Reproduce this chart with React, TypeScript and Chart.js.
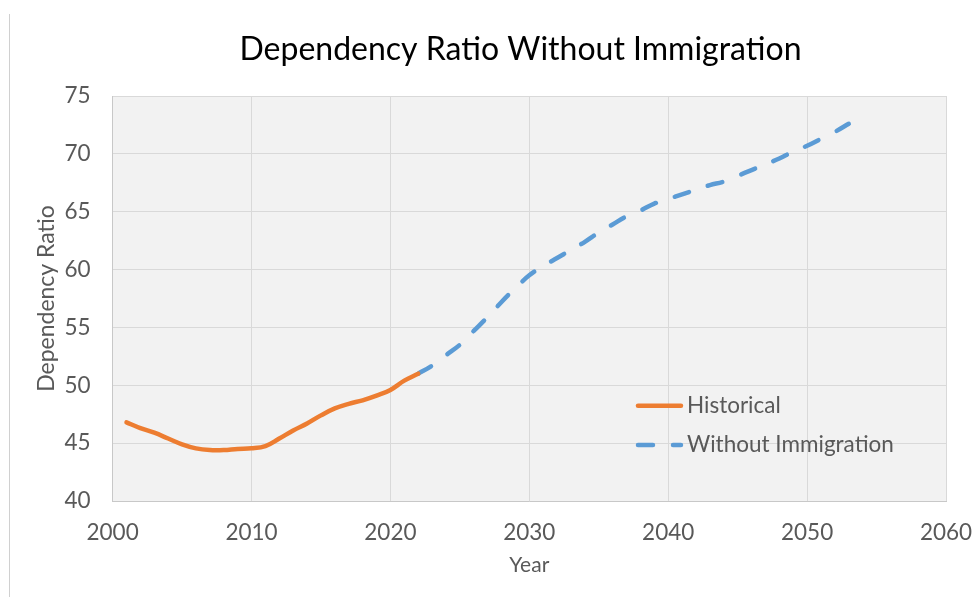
import React, { useEffect, useRef } from "react";
import { Chart, registerables } from "chart.js";

Chart.register(...registerables);

const chartTitle = "Dependency Ratio Without Immigration";
const xAxisTitle = "Year";
const yAxisTitle = "Dependency Ratio";

const historicalLabel = "Historical";
const historicalYears = [
  2001, 2002, 2003, 2004, 2005, 2006, 2007, 2008, 2009, 2010, 2011,
  2012, 2013, 2014, 2015, 2016, 2017, 2018, 2019, 2020, 2021, 2022,
];
const historicalValues = [
  46.8, 46.3, 45.9, 45.4, 44.9, 44.55, 44.4, 44.4, 44.5, 44.55, 44.75,
  45.4, 46.1, 46.7, 47.4, 48.0, 48.4, 48.7, 49.1, 49.6, 50.4, 51.0,
];

const projectionLabel = "Without Immigration";
const projectionYears = [
  2022, 2023, 2024, 2025, 2026, 2027, 2028, 2029, 2030, 2031, 2032,
  2033, 2034, 2035, 2036, 2037, 2038, 2039, 2040, 2041, 2042, 2043,
  2044, 2045, 2046, 2047, 2048, 2049, 2050, 2051, 2052, 2053,
];
const projectionValues = [
  51.0, 51.7, 52.6, 53.5, 54.7, 55.9, 57.2, 58.4, 59.5, 60.3, 61.0,
  61.7, 62.4, 63.2, 63.9, 64.6, 65.1, 65.7, 66.1, 66.5, 66.9, 67.3,
  67.6, 68.1, 68.6, 69.1, 69.6, 70.2, 70.7, 71.3, 71.9, 72.6,
];

const xMin = 2000;
const xMax = 2060;
const xStep = 10;
const yMin = 40;
const yMax = 75;
const yStep = 5;

const FONT = "Lato, 'Open Sans', sans-serif";
const TEXT_GRAY = "#595959";

const plotBackground = {
  id: "plotBackground",
  beforeDraw(chart: any) {
    const { ctx, chartArea: a } = chart;
    ctx.save();
    ctx.fillStyle = "#f2f2f2";
    ctx.fillRect(a.left, a.top, a.right - a.left, a.bottom - a.top);
    ctx.restore();
  },
};

const titlePlugin = {
  id: "customTitle",
  afterDraw(chart: any) {
    const { ctx } = chart;
    ctx.save();
    ctx.fillStyle = "#000000";
    ctx.font = `32px ${FONT}`;
    ctx.textAlign = "center";
    ctx.textBaseline = "middle";
    ctx.fillText(chartTitle, chart.width * 0.5333, 50);
    ctx.restore();
  },
};

const insideLegend = {
  id: "insideLegend",
  afterDatasetsDraw(chart: any) {
    const { ctx, chartArea: a } = chart;
    const w = a.right - a.left;
    const h = a.bottom - a.top;
    const x0 = a.left + w * 0.628;
    const rows = [0.765, 0.862];
    chart.data.datasets.forEach((ds: any, i: number) => {
      const y = a.top + h * rows[i];
      ctx.save();
      ctx.strokeStyle = ds.borderColor;
      ctx.lineWidth = ds.borderWidth;
      ctx.lineCap = "round";
      ctx.setLineDash(ds.borderDash || []);
      ctx.beginPath();
      ctx.moveTo(x0 + 2, y);
      ctx.lineTo(x0 + 45, y);
      ctx.stroke();
      ctx.setLineDash([]);
      ctx.fillStyle = TEXT_GRAY;
      ctx.font = `22.5px ${FONT}`;
      ctx.textBaseline = "middle";
      ctx.textAlign = "left";
      ctx.fillText(ds.label, x0 + 51, y);
      ctx.restore();
    });
  },
};

export default function App() {
  const canvasRef = useRef<HTMLCanvasElement | null>(null);

  useEffect(() => {
    document.body.style.margin = "0";
    document.body.style.overflow = "hidden";
    const canvas = canvasRef.current;
    if (!canvas) return;

    const chart = new Chart(canvas, {
      type: "line",
      data: {
        datasets: [
          {
            label: historicalLabel,
            data: historicalYears.map((x, i) => ({ x, y: historicalValues[i] })),
            borderColor: "#ED7D31",
            backgroundColor: "#ED7D31",
            borderWidth: 4.5,
            borderCapStyle: "round",
            borderJoinStyle: "round",
            pointRadius: 0,
            tension: 0.4,
            fill: false,
          },
          {
            label: projectionLabel,
            data: projectionYears.map((x, i) => ({ x, y: projectionValues[i] })),
            borderColor: "#5B9BD5",
            backgroundColor: "#5B9BD5",
            borderWidth: 4.5,
            borderDash: [15, 20],
            borderCapStyle: "round",
            borderJoinStyle: "round",
            pointRadius: 0,
            tension: 0.4,
            fill: false,
          },
        ],
      },
      options: {
        responsive: false,
        animation: false,
        layout: { padding: { left: 0, right: 30, top: 96, bottom: 0 } },
        plugins: {
          legend: { display: false },
          tooltip: { enabled: false },
          title: { display: false },
        },
        scales: {
          x: {
            type: "linear",
            min: xMin,
            max: xMax,
            afterFit: (s: any) => {
              s.height = 96;
              s.paddingLeft = 0;
              s.paddingRight = 0;
            },
            ticks: {
              stepSize: xStep,
              color: TEXT_GRAY,
              font: { family: FONT, size: 22.5 },
              padding: 18,
              maxRotation: 0,
              callback: (v: any) => String(v),
            },
            grid: { color: "#d9d9d9", lineWidth: 1, drawTicks: false },
            border: { display: true, color: "#c8c8c8" },
            title: {
              display: true,
              text: xAxisTitle,
              color: TEXT_GRAY,
              font: { family: FONT, size: 21 },
              padding: { top: 0, bottom: 19 },
            },
          },
          y: {
            type: "linear",
            min: yMin,
            max: yMax,
            afterFit: (s: any) => {
              s.width = 112.6;
              s.paddingTop = 0;
              s.paddingBottom = 0;
            },
            ticks: {
              stepSize: yStep,
              color: TEXT_GRAY,
              font: { family: FONT, size: 22.5 },
              padding: 22,
            },
            grid: { color: "#d9d9d9", lineWidth: 1, drawTicks: false },
            border: { display: true, color: "#c8c8c8" },
            title: {
              display: true,
              text: yAxisTitle,
              color: TEXT_GRAY,
              font: { family: FONT, size: 23 },
              padding: { top: 33, bottom: 0 },
            },
          },
        },
      },
      plugins: [plotBackground, insideLegend, titlePlugin],
    } as any);

    return () => chart.destroy();
  }, []);

  return (
    <div style={{ position: "relative", width: 976, height: 597, background: "#ffffff" }}>
      <canvas ref={canvasRef} width={976} height={597} style={{ display: "block" }} />
      <div
        style={{
          position: "absolute",
          left: 9,
          top: 14,
          width: 1,
          height: 583,
          background: "#d0d0d0",
        }}
      />
    </div>
  );
}
